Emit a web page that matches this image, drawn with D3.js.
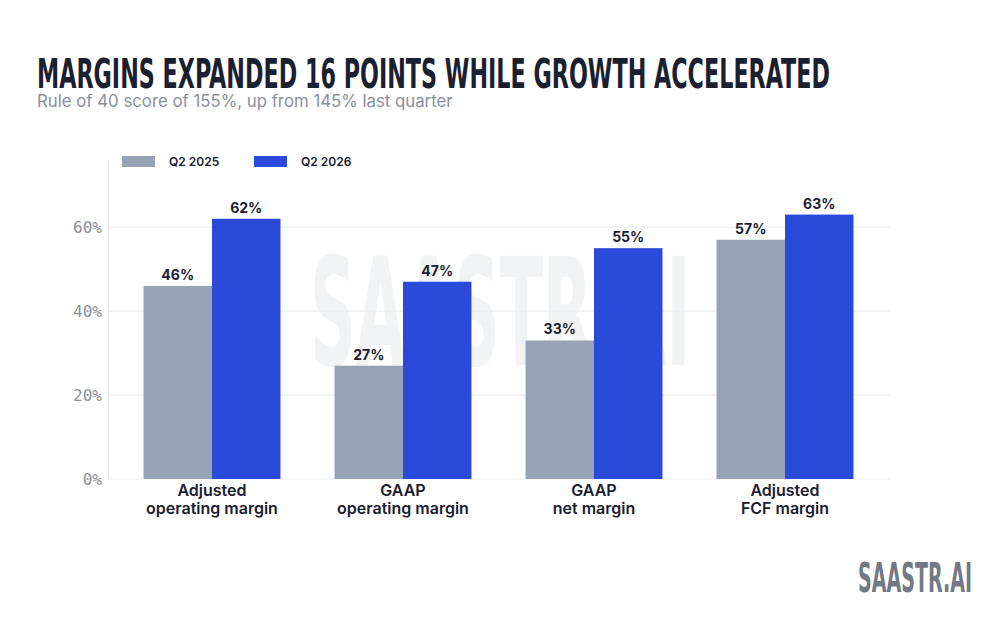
<!DOCTYPE html>
<html>
<head>
<meta charset="utf-8">
<script src="https://cdn.jsdelivr.net/npm/d3@7"></script>
<style>
  body { margin: 0; background: #fff; }
  svg { display: block; }
</style>
</head>
<body>
<svg id="chart" width="1000" height="637"></svg>
<script>
// chart data
const categories = [
  ["Adjusted", "operating margin"],
  ["GAAP", "operating margin"],
  ["GAAP", "net margin"],
  ["Adjusted", "FCF margin"]
];
const seriesNames = ["Q2 2025", "Q2 2026"];
const q2_2025 = [46, 27, 33, 57];
const q2_2026 = [62, 47, 55, 63];
const yTicks = [0, 20, 40, 60];

const colors = ["#98a2b6", "#2a4bd9"];
const dark = "#1b2030";

const svg = d3.select("#chart");
const margin = { top: 160, right: 110, bottom: 158, left: 108 };
const width = 1000, height = 637;

const rows = categories.map((c, i) => ({ label: c, values: [q2_2025[i], q2_2026[i]] }));

const y = d3.scaleLinear().domain([0, 76]).range([height - margin.bottom, margin.top]);

const x0 = d3.scaleBand()
  .domain(d3.range(categories.length))
  .range([116.5, 880.5])
  .paddingInner(0.283)
  .paddingOuter(0.1415);

const x1 = d3.scaleBand()
  .domain(d3.range(seriesNames.length))
  .range([0, x0.bandwidth()]);

// title + subtitle
svg.append("text")
  .attr("x", 37).attr("y", 88)
  .attr("font-family", "Liberation Sans Narrow, DejaVu Sans Condensed, sans-serif")
  .attr("font-weight", 700)
  .attr("font-size", 41)
  .attr("fill", dark)
  .attr("textLength", 793)
  .attr("lengthAdjust", "spacingAndGlyphs")
  .text("MARGINS EXPANDED 16 POINTS WHILE GROWTH ACCELERATED");

svg.append("text")
  .attr("x", 37).attr("y", 107)
  .attr("font-family", "Inter, sans-serif")
  .attr("font-size", 16.8)
  .attr("fill", "#8b909b")
  .text("Rule of 40 score of 155%, up from 145% last quarter");

// watermark
svg.append("text")
  .attr("x", 500).attr("y", 365)
  .attr("text-anchor", "middle")
  .attr("font-family", "Liberation Sans Narrow, DejaVu Sans Condensed, sans-serif")
  .attr("font-weight", 700)
  .attr("font-size", 150)
  .attr("fill", "#f2f3f5")
  .attr("textLength", 380)
  .attr("lengthAdjust", "spacingAndGlyphs")
  .text("SAASTR.AI");

// grid
svg.append("g")
  .selectAll("line")
  .data(yTicks)
  .join("line")
  .attr("x1", margin.left).attr("x2", width - margin.right)
  .attr("y1", d => y(d)).attr("y2", d => y(d))
  .attr("stroke", "#eceef1")
  .attr("stroke-width", 1.2);

// y axis
const yAxis = svg.append("g")
  .attr("transform", `translate(${margin.left},0)`)
  .call(d3.axisLeft(y).tickValues(yTicks).tickFormat(d => d + "%").tickSize(0).tickPadding(6));
yAxis.select(".domain").attr("stroke", "#e6e8ec");
yAxis.selectAll("text")
  .attr("font-family", "DejaVu Sans Mono, monospace")
  .attr("font-size", 16)
  .attr("fill", "#8b909b");

// bars
const groups = svg.append("g")
  .selectAll("g")
  .data(rows)
  .join("g")
  .attr("transform", (d, i) => `translate(${x0(i)},0)`);

groups.selectAll("rect")
  .data(d => d.values)
  .join("rect")
  .attr("x", (d, j) => x1(j))
  .attr("y", d => y(d))
  .attr("width", x1.bandwidth())
  .attr("height", d => y(0) - y(d))
  .attr("fill", (d, j) => colors[j]);

groups.selectAll("text.val")
  .data(d => d.values)
  .join("text")
  .attr("class", "val")
  .attr("x", (d, j) => x1(j) + x1.bandwidth() / 2)
  .attr("y", d => y(d) - 6)
  .attr("text-anchor", "middle")
  .attr("font-family", "Inter, sans-serif")
  .attr("font-weight", 700)
  .attr("font-size", 14)
  .attr("fill", dark)
  .text(d => d + "%");

// category labels
groups.append("text")
  .attr("text-anchor", "middle")
  .attr("font-family", "Inter, sans-serif")
  .attr("font-weight", 600)
  .attr("font-size", 16)
  .attr("fill", dark)
  .selectAll("tspan")
  .data(d => d.label)
  .join("tspan")
  .attr("x", x0.bandwidth() / 2)
  .attr("y", (d, k) => y(0) + 17 + k * 18)
  .text(d => d);

// legend
const legend = svg.append("g")
  .selectAll("g")
  .data(seriesNames)
  .join("g")
  .attr("transform", (d, i) => `translate(${122 + i * 132},156)`);
legend.append("rect")
  .attr("width", 33).attr("height", 11)
  .attr("fill", (d, i) => colors[i]);
legend.append("text")
  .attr("x", 47).attr("y", 10)
  .attr("font-family", "Inter, sans-serif")
  .attr("font-weight", 600)
  .attr("font-size", 12)
  .attr("fill", dark)
  .text(d => d);

// logo
svg.append("text")
  .attr("x", 972).attr("y", 592)
  .attr("text-anchor", "end")
  .attr("font-family", "Liberation Sans Narrow, DejaVu Sans Condensed, sans-serif")
  .attr("font-weight", 700)
  .attr("font-size", 41)
  .attr("fill", "#737884")
  .attr("textLength", 114)
  .attr("lengthAdjust", "spacingAndGlyphs")
  .text("SAASTR.AI");
</script>
</body>
</html>
